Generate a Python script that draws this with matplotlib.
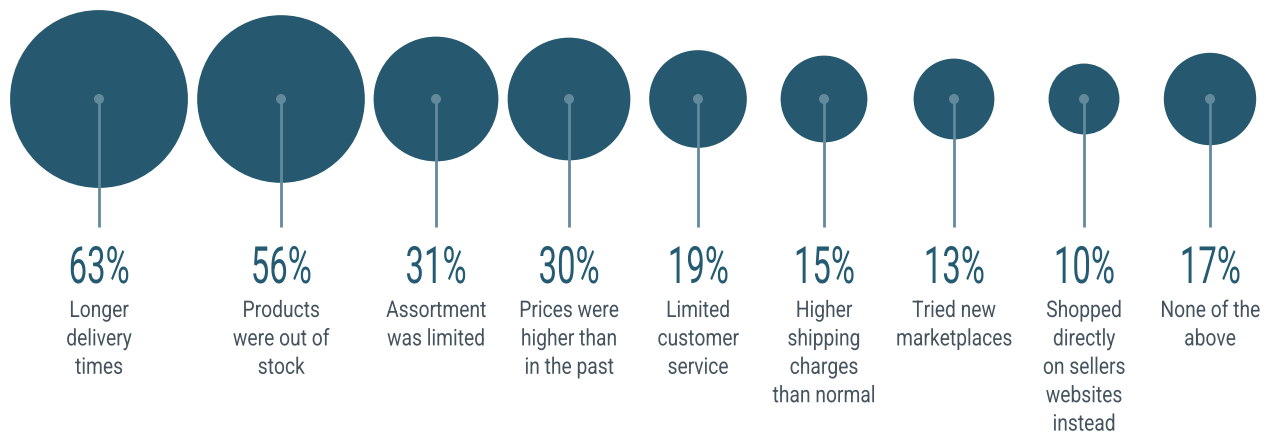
import numpy as np
import matplotlib
matplotlib.use('Agg')
import matplotlib.pyplot as plt
from matplotlib.patches import Circle
from matplotlib.patheffects import AbstractPathEffect
from matplotlib.text import Text
from matplotlib.transforms import Affine2D, Bbox

# data
values = [63, 56, 31, 30, 19, 15, 13, 10, 17]
labels = ['Longer\ndelivery\ntimes', 'Products\nwere out of\nstock',
          'Assortment\nwas limited', 'Prices were\nhigher than\nin the past',
          'Limited\ncustomer\nservice', 'Higher\nshipping\ncharges\nthan normal',
          'Tried new\nmarketplaces', 'Shopped\ndirectly\non sellers\nwebsites\ninstead',
          'None of the\nabove']
# layout (pixel units)
xpos = [99, 281, 436, 569, 698, 824, 954, 1084, 1210]
yc = 99
stem_end = 227
area_per_pct = 125.5  # px^2 per percent

bubble_col = '#265970'
stem_col = '#628a9b'
pct_col = '#245a72'
lab_col = '#44535e'


class Condense(AbstractPathEffect):
    """squeeze glyphs horizontally around each line's centre"""
    def __init__(self, sx):
        super().__init__()
        self.sx = sx

    def draw_path(self, renderer, gc, tpath, affine, rgbFace=None):
        ext = affine.transform_path(tpath).get_extents()
        cx = (ext.x0 + ext.x1) / 2
        aff = affine + Affine2D().translate(-cx, 0).scale(self.sx, 1).translate(cx, 0)
        renderer.draw_path(gc, tpath, aff, rgbFace)


class CText(Text):
    """text drawn condensed, reporting its condensed extent"""
    def __init__(self, *args, sx=1.0, **kw):
        super().__init__(*args, **kw)
        self.sx = sx
        self.set_path_effects([Condense(sx)])

    def get_window_extent(self, renderer=None, dpi=None):
        bb = super().get_window_extent(renderer, dpi)
        cx = (bb.x0 + bb.x1) / 2
        w = bb.width * self.sx
        return Bbox.from_extents(cx - w / 2, bb.y0, cx + w / 2, bb.y1)


fig = plt.figure(figsize=(12.66, 4.37), dpi=100)
ax = fig.add_axes([0, 0, 1, 1])
ax.set_xlim(0, 1266)
ax.set_ylim(437, 0)
ax.set_aspect('equal')
ax.axis('off')

for x, v, lab in zip(xpos, values, labels):
    r = np.sqrt(v * area_per_pct)
    ax.add_patch(Circle((x, yc), r, color=bubble_col, lw=0, zorder=1))
    ax.plot([x, x], [yc, stem_end], color=stem_col, lw=2, zorder=2,
            solid_capstyle='butt')
    ax.add_patch(Circle((x, yc), 5, color=stem_col, lw=0, zorder=3))
    ax.add_artist(CText(x, 283, f'{v}%', ha='center', va='baseline', fontsize=37,
                        family='Roboto', weight='normal', color=pct_col, sx=0.64,
                        transform=ax.transData))
    ax.add_artist(CText(x, 299, lab, ha='center', va='top', fontsize=16.5,
                        family='Roboto', weight='normal', color=lab_col,
                        linespacing=1.3, multialignment='center', sx=0.84,
                        transform=ax.transData))

fig.savefig('out.png', dpi=100)
